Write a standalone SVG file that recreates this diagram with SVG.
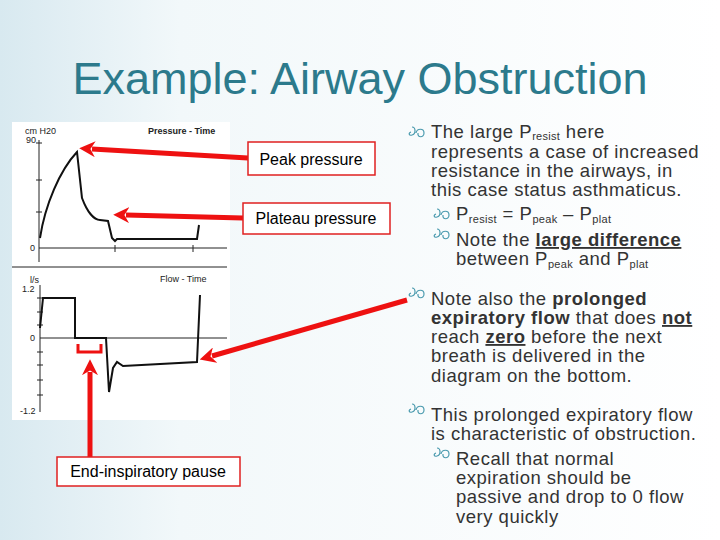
<svg xmlns="http://www.w3.org/2000/svg" width="720" height="540" viewBox="0 0 720 540">
<defs>
<linearGradient id="bg" x1="0" y1="0" x2="1" y2="0"><stop offset="0" stop-color="#d8e9f0"/><stop offset="0.25" stop-color="#f2f8fa"/><stop offset="1" stop-color="#ffffff"/></linearGradient>
<marker id="ah" viewBox="0 0 10 10" refX="2" refY="5" markerWidth="3.2" markerHeight="3.2" orient="auto"><path d="M0,0 L10,5 L0,10 L3,5 Z" fill="#ee1111"/></marker>
<path id="bul" d="M0,-6 c4,0 4,7 0,8 c-3,1 -4,-2 -1,-3 M4,0 c1,-5 8,-5 8,0 c0,5 -7,5 -6,0" fill="none" stroke="#4a9aae" stroke-width="1.2"/>
</defs>
<style>
.t{font-family:"Liberation Sans",Arial,sans-serif;font-size:18.5px;letter-spacing:0.5px;fill:#333}
.s{font-size:11px;letter-spacing:0.3px}
.lb{font-family:"Liberation Sans",Arial,sans-serif;font-size:16px;fill:#000}
.ax{font-family:"Liberation Sans",Arial,sans-serif;font-size:9px;fill:#222}
.box{fill:#fff;stroke:#e02020;stroke-width:1.5}
.red{stroke:#ee1111;stroke-width:5;fill:none}
.cv{fill:none;stroke:#111;stroke-width:2}
</style>
<rect width="720" height="540" fill="url(#bg)"/>
<text x="360" y="94" text-anchor="middle" font-family="Liberation Sans,Arial,sans-serif" font-size="45" fill="#2c7a8c">Example: Airway Obstruction</text>
<g id="chart">
<rect x="12" y="122" width="218" height="298" fill="#fff"/>
<text class="ax" x="25" y="134">cm H20</text><text class="ax" x="26" y="143">90</text>
<text class="ax" x="148" y="134" font-weight="bold">Pressure - Time</text>
<text class="ax" x="30" y="251">0</text>
<g stroke="#222" stroke-width="1" fill="none">
<path d="M39,140 V262 M39,248 H227 M12,267 H227 M40,285 V412 M40,338 H227"/>
<path d="M36,143 H42 M36,180 H42 M36,212 H42 M115,245 V252 M193,245 V252 M37,298 H43 M37,312 H43 M37,325 H43 M37,352 H43 M37,365 H43 M37,380 H43 M37,395 H43"/>
</g>
<text class="ax" x="30" y="283">l/s</text><text class="ax" x="22" y="292">1.2</text>
<text class="ax" x="160" y="282">Flow - Time</text>
<text class="ax" x="30" y="341">0</text><text class="ax" x="20" y="414">-1.2</text>
<path class="cv" d="M40,238 C45,205 60,170 77,152 L82,198 C88,214 95,220 100,220 L108,221 L112,238 L115,241 L117,239 L197,239 L199,225"/>
<path class="cv" d="M40,328 L43,298 L75,298 L75,338 L106,338 L109,392 L113,368 L117,362 L123,366 L197,362 L200,295"/>
</g>
<g id="connectors">
<path class="red" d="M248,158 L92,149" marker-end="url(#ah)"/>
<path class="red" d="M243,218 L126,215" marker-end="url(#ah)"/>
<path class="red" d="M407,300 L212,356" marker-end="url(#ah)"/>
<path class="red" d="M90,457 L90,372" marker-end="url(#ah)"/>
<path d="M78,344 V352 H101 V344" fill="none" stroke="#ee1111" stroke-width="3"/>
</g>
<g id="peak"><rect class="box" x="248" y="142" width="127" height="33"/><text class="lb" x="311" y="165" text-anchor="middle">Peak pressure</text></g>
<g id="plateau"><rect class="box" x="243" y="203" width="147" height="31"/><text class="lb" x="316" y="224" text-anchor="middle">Plateau pressure</text></g>
<g id="pause"><rect class="box" x="57" y="457" width="183" height="29"/><text class="lb" x="148" y="477" text-anchor="middle">End-inspiratory pause</text></g>
<g id="text">
<use href="#bul" x="412" y="133"/>
<text class="t" x="431" y="138">The large P<tspan class="s" dy="2">resist</tspan><tspan dy="-2"> here</tspan></text>
<text class="t" x="431" y="158">represents a case of increased</text>
<text class="t" x="431" y="177">resistance in the airways, in</text>
<text class="t" x="431" y="196">this case status asthmaticus.</text>
<use href="#bul" x="437" y="215"/>
<text class="t" x="456" y="220">P<tspan class="s" dy="3">resist</tspan><tspan dy="-3"> = P</tspan><tspan class="s" dy="3">peak</tspan><tspan dy="-3"> – P</tspan><tspan class="s" dy="3">plat</tspan></text>
<use href="#bul" x="437" y="235"/>
<text class="t" x="456" y="246">Note the <tspan font-weight="bold" text-decoration="underline">large difference</tspan></text>
<text class="t" x="456" y="265">between P<tspan class="s" dy="3">peak</tspan><tspan dy="-3"> and P</tspan><tspan class="s" dy="3">plat</tspan></text>
<use href="#bul" x="412" y="294"/>
<text class="t" x="431" y="305">Note also the <tspan font-weight="bold">prolonged</tspan></text>
<text class="t" x="431" y="324"><tspan font-weight="bold">expiratory flow</tspan> that does <tspan font-weight="bold" text-decoration="underline">not</tspan></text>
<text class="t" x="431" y="343">reach <tspan font-weight="bold" text-decoration="underline">zero</tspan> before the next</text>
<text class="t" x="431" y="362">breath is delivered in the</text>
<text class="t" x="431" y="382">diagram on the bottom.</text>
<use href="#bul" x="412" y="410"/>
<text class="t" x="431" y="421">This prolonged expiratory flow</text>
<text class="t" x="431" y="440">is characteristic of obstruction.</text>
<use href="#bul" x="437" y="454"/>
<text class="t" x="456" y="465">Recall that normal</text>
<text class="t" x="456" y="484">expiration should be</text>
<text class="t" x="456" y="503">passive and drop to 0 flow</text>
<text class="t" x="456" y="523">very quickly</text>
</g>
</svg>
